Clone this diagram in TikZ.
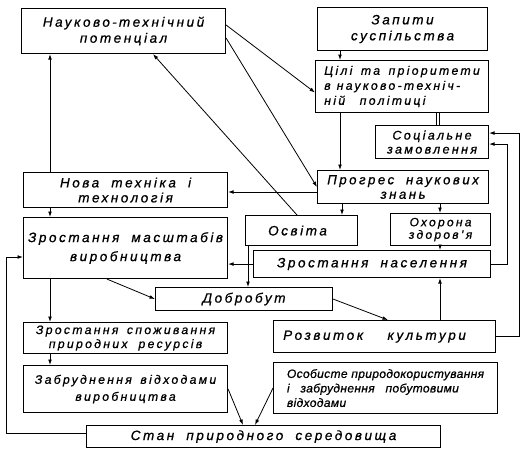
\documentclass[tikz,border=0pt]{standalone}
\usepackage{fontspec}
\usetikzlibrary{arrows.meta}
\newfontfamily\lfw[LetterSpace=19,FakeBold=0.8]{Liberation Sans}
\newfontfamily\lfn[LetterSpace=3,FakeBold=0.8]{Liberation Sans}
\newcommand\ws{\hspace{0.9em}}
\begin{document}
\begin{tikzpicture}[x=1pt,y=-1pt,
  box/.style={draw, line width=1.1pt, inner sep=1pt, anchor=north west, align=center,
    font=\lfw\itshape\fontsize{13.5}{16}\selectfont},
  arr/.style={line width=0.8pt, -{Latex[length=5.5pt,width=3.8pt]}},
  ln/.style={line width=0.8pt}]
\useasboundingbox (0,0) rectangle (525,455);
% column / row helper coordinates
\coordinate (c6) at (6,0);
\coordinate (c50) at (50,0);
\coordinate (c107) at (107,0);
\coordinate (c153) at (153,0);
\coordinate (c243) at (243,0);
\coordinate (c248) at (248,0);
\coordinate (c255) at (255,0);
\coordinate (c297) at (297,0);
\coordinate (c340) at (340,0);
\coordinate (c342) at (342,0);
\coordinate (c388) at (388,0);
\coordinate (c438) at (438,0);
\coordinate (c440) at (440,0);
\coordinate (c507) at (507,0);
\coordinate (c519) at (519,0);
\coordinate (r192) at (0,192);
\coordinate (r257) at (0,257);
% boxes
\node[box, minimum width=204, minimum height=45] (ntp) at (21,8) {Науково\,-\,технічний\\потенціал};
\node[box, minimum width=170, minimum height=43] (zap) at (317,7) {Запити\\суспільства};
\node[box, minimum width=173, minimum height=52, align=left, font=\lfw\itshape\fontsize{12.2}{15}\selectfont] (cil) at (315,60) {Цілі\hspace{0.7em}та\hspace{0.7em}пріоритети\\в\hspace{0.5em}науково-техніч-\\ній\hspace{1.2em}політиці};
\node[box, minimum width=113, minimum height=33, font=\lfw\itshape\fontsize{12.5}{14}\selectfont] (soc) at (375,125) {Соціальне\\замовлення};
\node[box, minimum width=171, minimum height=33, font=\lfw\itshape\fontsize{13.2}{14.5}\selectfont] (prog) at (317,170) {Прогрес\ws наукових\\знань};
\node[box, minimum width=204, minimum height=35, font=\lfw\itshape\fontsize{13.5}{15}\selectfont] (nova) at (23,172) {Нова\ws техніка\ws і\\технологія};
\node[box, minimum width=204, minimum height=61] (masht) at (23,217) {Зростання\ws масштабів\\[3pt]виробництва};
\node[box, minimum width=112, minimum height=30] (osv) at (245,215) {Освіта\hspace*{8pt}};
\node[box, minimum width=100, minimum height=32, font=\lfw\itshape\fontsize{12}{12.5}\selectfont] (okh) at (390,213) {Охорона\\здоров’я};
\node[box, minimum width=237, minimum height=27] (nas) at (253,250) {Зростання\ws населення};
\node[box, minimum width=177, minimum height=23] (dob) at (155,287) {Добробут};
\node[box, minimum width=204, minimum height=31, font=\lfw\itshape\fontsize{12.2}{14}\selectfont] (spoz) at (23,322) {Зростання\hspace{0.7em}споживання\\природних\ws ресурсів};
\node[box, minimum width=204, minimum height=47, font=\lfw\itshape\fontsize{12.2}{17}\selectfont] (zabr) at (23,365) {Забруднення\hspace{0.7em}відходами\\виробництва};
\node[box, minimum width=222, minimum height=32] (kult) at (273,320) {Розвиток\ws\ws культури\hspace*{20pt}};
\node[box, minimum width=224, minimum height=51, align=left, font=\lfn\itshape\fontsize{12}{14.5}\selectfont] (osob) at (273,362) {Особисте природокористування\\і\ws забруднення\ws побутовими\\відходами};
\node[box, minimum width=354, minimum height=22] (stan) at (86,425) {Стан\ws природного\ws середовища};
% connectors
\draw[arr] (zap.south -| c340) -- (cil.north -| c340);
\draw[arr] (cil.south -| c340) -- (prog.north -| c340);
\draw[line width=0.7pt, double, double distance=2pt] (cil.south -| c438) -- (soc.north -| c438);
\draw[arr] ([yshift=-17pt]ntp.north east) -- ([yshift=-6pt]cil.west);
\draw[arr] ([yshift=-7pt]ntp.east) -- (prog.west);
\draw[arr] (prog.west |- r192) -- (nova.east |- r192);
\draw[arr] (osv.north -| c297) -- (ntp.south -| c153);
\draw[arr] (nova.north -| c50) -- (ntp.south -| c50);
\draw[arr] (nova.south -| c50) -- (masht.north -| c50);
\draw[arr] (masht.south -| c50) -- (spoz.north -| c50);
\draw[arr] (spoz.south -| c50) -- (zabr.north -| c50);
\draw[arr] (masht.south -| c107) -- (dob.west);
\draw[arr] (osv.south -| c248) -- (dob.north -| c248);
\draw[arr] (nas.west) -- (masht.east |- nas.west);
\draw[arr] (prog.south -| c342) -- (osv.north -| c342);
\draw[arr] (prog.south -| c440) -- (okh.north -| c440);
\draw[arr] (okh.south -| c440) -- (nas.north -| c440);
\draw[arr] (kult.north -| c440) -- (nas.south -| c440);
\draw[arr] (nas.east) -- (nas.east -| c507) |- ([yshift=-2pt]soc.east);
\draw[arr] (kult.east) -- (kult.east -| c519) |- ([yshift=9pt]soc.east);
\draw[arr] (dob.east) -- (kult.north -| c388);
\draw[arr] (zabr.east) -- (stan.north -| c243);
\draw[arr] (osob.west) -- (stan.north -| c255);
\draw[arr] ([yshift=3pt]stan.west) -- ([yshift=3pt]stan.west -| c6) |- (masht.west |- r257);
\end{tikzpicture}
\end{document}
